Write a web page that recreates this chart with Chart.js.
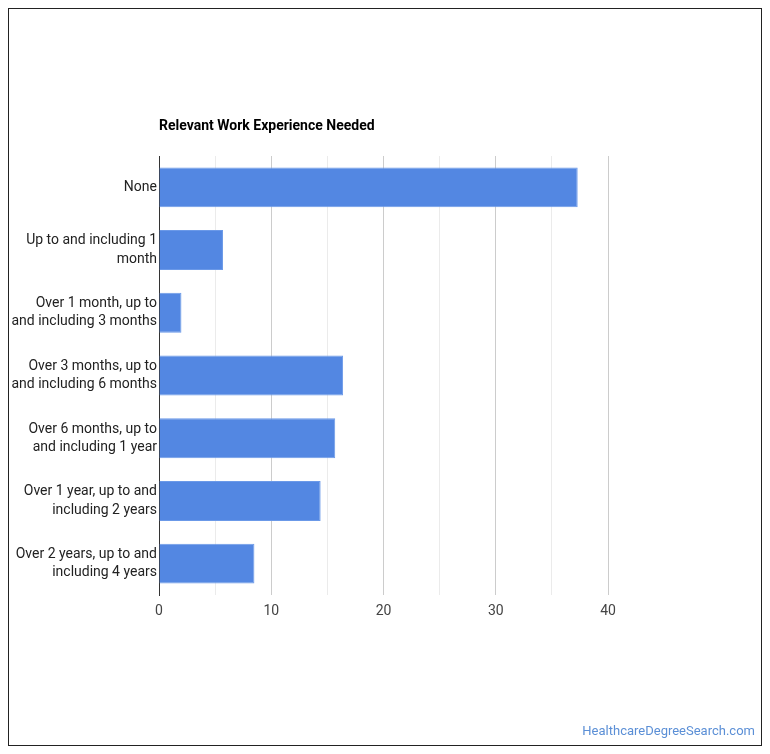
<!DOCTYPE html>
<html>
<head>
<meta charset="utf-8">
<script src="https://cdn.jsdelivr.net/npm/chart.js@4.4.0/dist/chart.umd.min.js"></script>
<style>
  html, body { margin: 0; padding: 0; background: #fff; }
  #wrap { position: relative; width: 770px; height: 754px; }
  #frame { position: absolute; left: 8px; top: 8px; width: 752px; height: 736px; border: 1px solid #222; box-sizing: content-box; pointer-events: none; }
  #credit { position: absolute; right: 15px; top: 723px; font: 13px Roboto, sans-serif; color: #5b8fd6; }
  canvas { position: absolute; left: 0; top: 0; }
</style>
</head>
<body>
<div id="wrap">
  <canvas id="chart" width="770" height="754"></canvas>
  <div id="frame"></div>
  <div id="credit">HealthcareDegreeSearch.com</div>
</div>
<script>
// Datos
const categories = [
  "None",
  ["Up to and including 1", "month"],
  ["Over 1 month, up to", "and including 3 months"],
  ["Over 3 months, up to", "and including 6 months"],
  ["Over 6 months, up to", "and including 1 year"],
  ["Over 1 year, up to and", "including 2 years"],
  ["Over 2 years, up to and", "including 4 years"]
];
const values = [37.3, 5.7, 2.0, 16.4, 15.7, 14.4, 8.5];
const xTicks = [0, 10, 20, 30, 40];
const chartTitle = "Relevant Work Experience Needed";

// Titulo alineado con el area del grafico
const titlePlugin = {
  id: "leftTitle",
  afterDraw(chart) {
    const ctx = chart.ctx;
    ctx.save();
    ctx.font = "bold 14px Roboto, sans-serif";
    ctx.fillStyle = "#000";
    ctx.textBaseline = "middle";
    ctx.fillText(chartTitle, chart.chartArea.left, 126);
    ctx.restore();
  }
};

new Chart(document.getElementById("chart"), {
  type: "bar",
  data: {
    labels: categories,
    datasets: [{
      data: values,
      backgroundColor: "#5387e2",
      borderColor: "#6b99e8",
      borderWidth: 1,
      categoryPercentage: 1,
      barPercentage: 0.637
    }]
  },
  options: {
    indexAxis: "y",
    responsive: false,
    animation: false,
    layout: { padding: { left: 0, top: 156, right: 162, bottom: 0 } },
    plugins: {
      legend: { display: false },
      tooltip: { enabled: false }
    },
    scales: {
      x: {
        min: 0,
        max: 40,
        afterFit: (s) => { s.height = 159; },
        afterBuildTicks: (s) => {
          s.ticks = [0, 5, 10, 15, 20, 25, 30, 35, 40].map(v => ({ value: v }));
        },
        border: { display: false },
        grid: {
          drawTicks: false,
          color: (c) => (xTicks.includes(c.tick && c.tick.value) ? "#cccccc" : "#ebebeb")
        },
        ticks: {
          padding: 8,
          color: "#444",
          font: { family: "Roboto", size: 14 },
          callback: (v) => (xTicks.includes(v) ? String(v) : "")
        }
      },
      y: {
        afterFit: (s) => { s.width = 159; },
        border: { display: true, color: "#333", width: 1 },
        grid: { display: false, drawTicks: false },
        ticks: {
          padding: 2,
          color: "#222",
          font: { family: "Roboto", size: 14, lineHeight: 1.3 }
        }
      }
    }
  },
  plugins: [titlePlugin]
});
</script>
</body>
</html>
